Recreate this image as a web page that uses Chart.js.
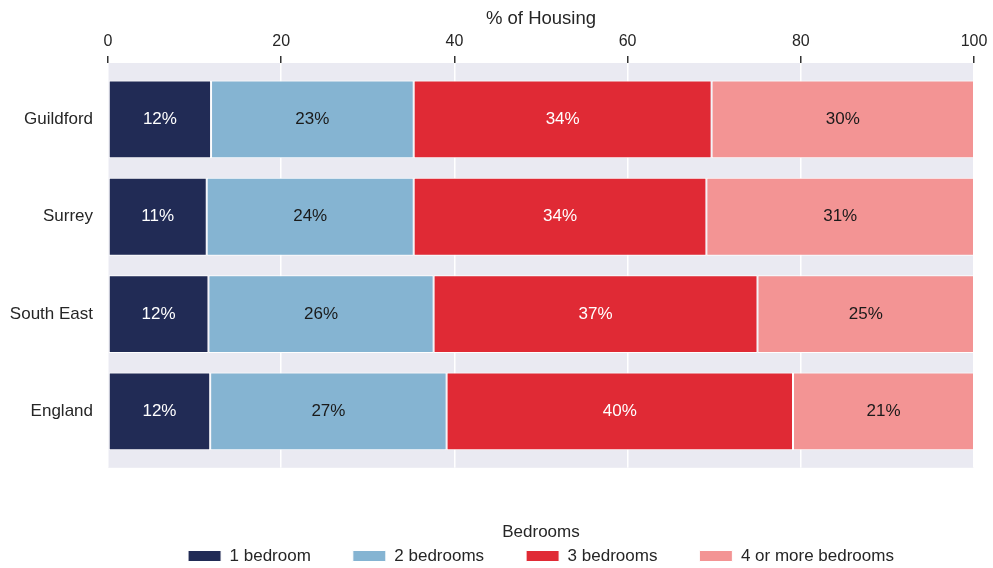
<!DOCTYPE html>
<html><head><meta charset="utf-8">
<script src="https://cdn.jsdelivr.net/npm/chart.js@4/dist/chart.umd.min.js"></script>
<style>html,body{margin:0;padding:0;background:#fff}#wrap{width:993px;height:568px;position:relative}</style>
</head><body><div id="wrap"><canvas id="c"></canvas></div>
<script>
const categories = ['Guildford', 'Surrey', 'South East', 'England'];
const seriesNames = ['1 bedroom', '2 bedrooms', '3 bedrooms', '4 or more bedrooms'];
const oneBed = [11.9, 11.4, 11.6, 11.8];
const twoBed = [23.4, 23.9, 26.0, 27.3];
const threeBed = [34.4, 33.8, 37.4, 40.0];
const fourPlus = [30.3, 30.9, 25.0, 20.9];
const xTicks = [0, 20, 40, 60, 80, 100];
const seriesColors = ['#212B55', '#85B4D2', '#E02A35', '#F39494'];
const labelColors = ['#ffffff', '#1a1a1a', '#ffffff', '#1a1a1a'];

const seriesValues = [oneBed, twoBed, threeBed, fourPlus];
const FONT = "'Liberation Sans', Arial, sans-serif";
const TEXT = '#262626';
Chart.defaults.font.family = FONT;
Chart.defaults.color = TEXT;

const bgPlugin = {
  id: 'bg',
  beforeDraw(chart) {
    const a = chart.chartArea, ctx = chart.ctx;
    ctx.save(); ctx.fillStyle = '#EAEAF2';
    ctx.fillRect(a.left, a.top, a.right - a.left, a.bottom - a.top);
    ctx.restore();
  }
};
const valueLabels = {
  id: 'valueLabels',
  afterDatasetsDraw(chart) {
    const ctx = chart.ctx;
    ctx.save();
    ctx.font = '17px ' + FONT;
    ctx.textAlign = 'center'; ctx.textBaseline = 'middle';
    chart.data.datasets.forEach((ds, di) => {
      const meta = chart.getDatasetMeta(di);
      meta.data.forEach((el, i) => {
        const v = ds.data[i].x;
        ctx.fillStyle = labelColors[di];
        ctx.fillText(Math.round(v) + '%', (el.x + el.base) / 2, el.y);
      });
    });
    ctx.restore();
  }
};
const legendShift = {
  id: 'legendShift',
  afterLayout(chart) {
    const lg = chart.legend;
    if (!lg) return;
    const a = chart.chartArea;
    const target = (a.left + a.right) / 2;
    const cur = (lg.left + lg.right) / 2;
    const d = target - cur;
    lg.left += d; lg.right += d;
  }
};

new Chart(document.getElementById('c'), {
  type: 'bar',
  data: {
    datasets: seriesNames.map((name, di) => ({
      label: name,
      data: seriesValues[di].map((v, i) => ({ x: v, y: i })),
      backgroundColor: seriesColors[di],
      borderColor: '#ffffff',
      borderWidth: 1,
      borderSkipped: false,
      barPercentage: 0.8,
      categoryPercentage: 1.0
    }))
  },
  options: {
    indexAxis: 'y',
    responsive: true,
    maintainAspectRatio: false,
    animation: false,
    layout: { padding: { left: 0, right: 19, top: 0, bottom: -6.5 } },
    scales: {
      x: {
        type: 'linear', position: 'top', stacked: true,
        min: 0, max: 100,
        afterBuildTicks(s) { s.ticks = xTicks.map(v => ({ value: v })); },
        afterFit(s) { s.height = 63; },
        grid: { color: '#ffffff', lineWidth: 1.5, tickColor: '#333333', tickWidth: 1.5, tickLength: 7, drawTicks: true },
        border: { display: false },
        ticks: { font: { size: 16 }, color: TEXT, padding: 5 },
        title: { display: true, text: '% of Housing', font: { size: 18.5 }, color: TEXT, padding: { top: 8, bottom: 0 } }
      },
      y: {
        type: 'linear', stacked: true, reverse: true, offset: false,
        min: -0.58, max: 3.58,
        afterBuildTicks(s) { s.ticks = categories.map((_, i) => ({ value: i })); },
        afterFit(s) { s.width = 108; },
        grid: { display: false, drawTicks: false, offset: false },
        border: { display: false },
        ticks: { font: { size: 17 }, color: TEXT, padding: 15, callback: v => categories[v] }
      }
    },
    plugins: {
      legend: {
        position: 'bottom',
        align: 'center',
        title: { display: true, text: 'Bedrooms', font: { size: 17 }, color: TEXT, padding: { top: 56, bottom: -38.7 } },
        labels: { boxWidth: 33, boxHeight: 11, font: { size: 17 }, color: TEXT, padding: 42 }
      },
      tooltip: { enabled: false }
    }
  },
  plugins: [bgPlugin, valueLabels, legendShift]
});
</script>
</body></html>
